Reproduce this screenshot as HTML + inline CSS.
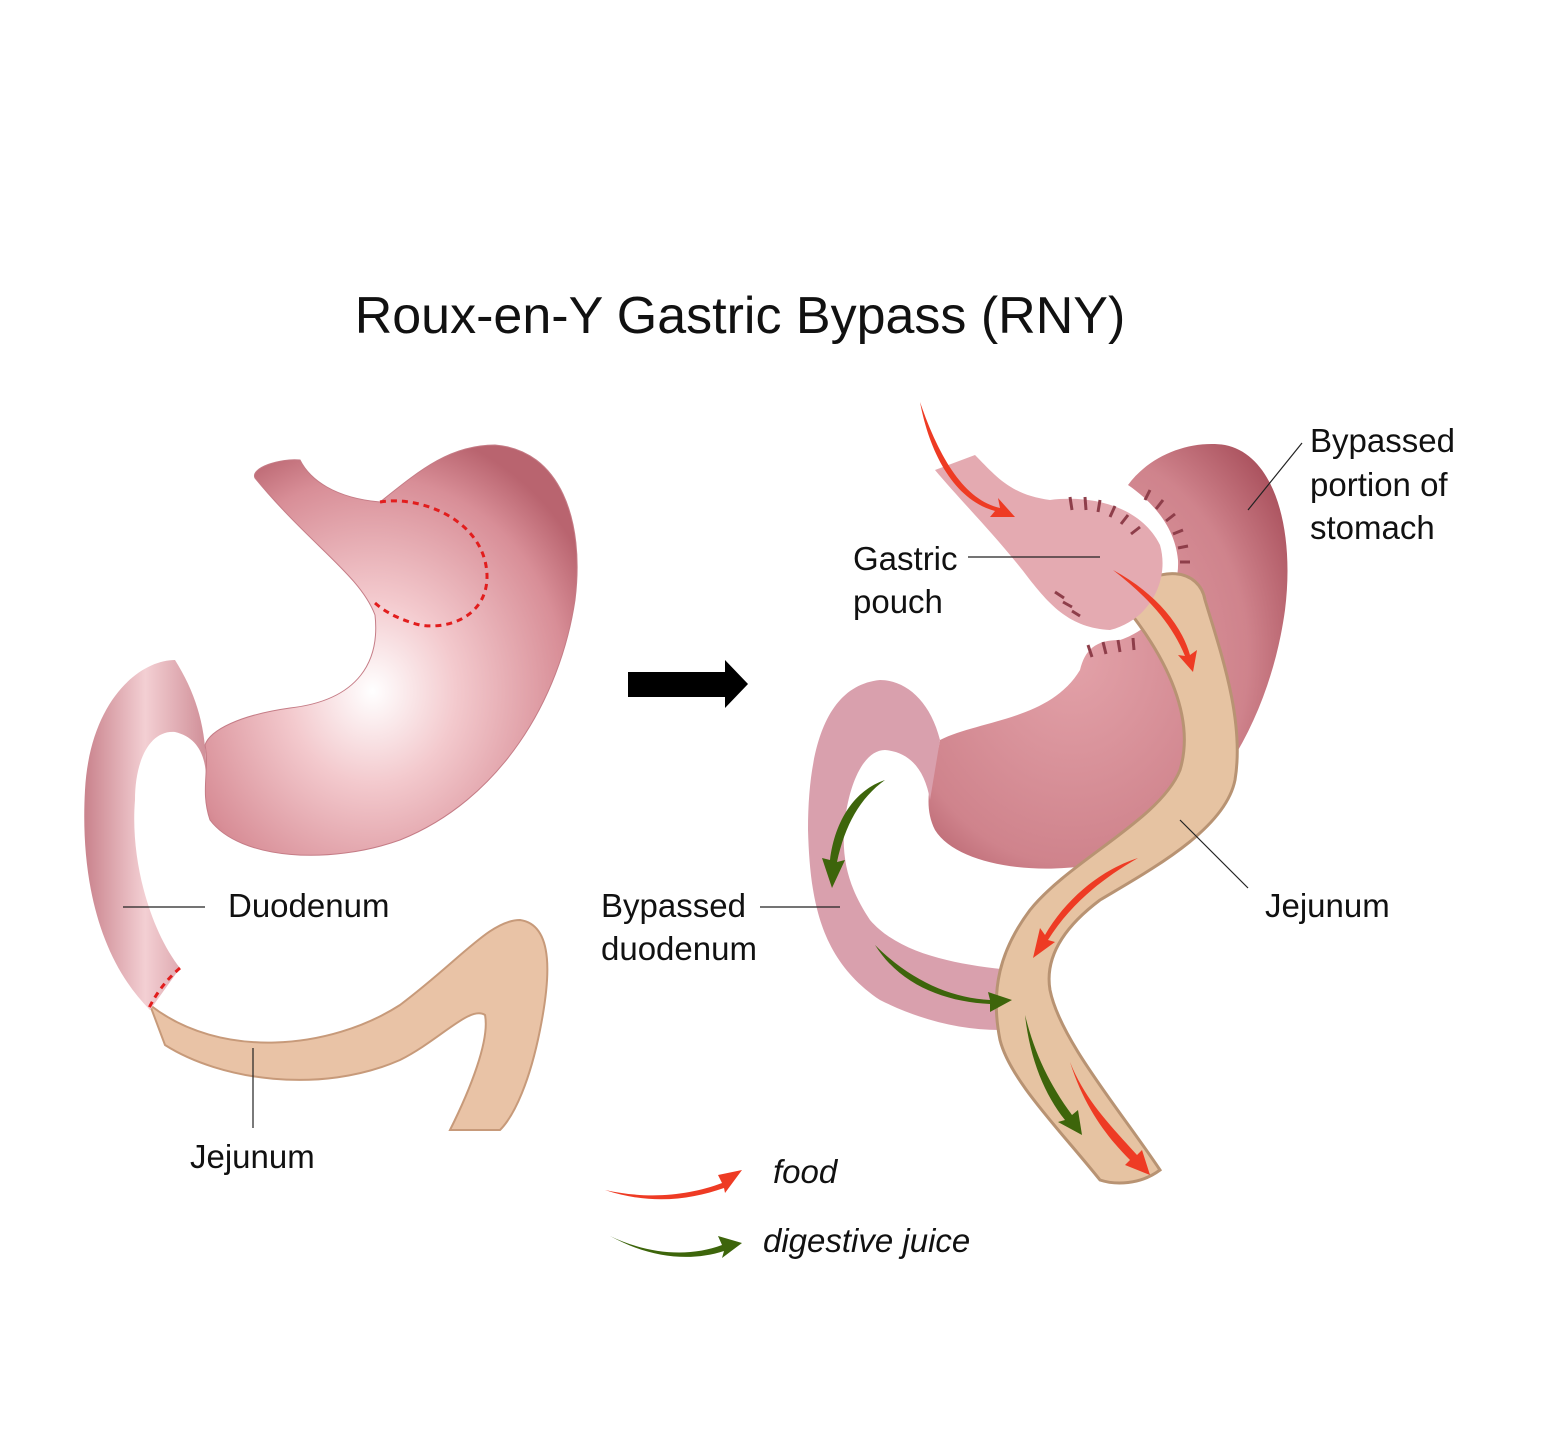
<!DOCTYPE html>
<html><head><meta charset="utf-8"><style>
html,body{margin:0;padding:0;background:#fff;}
svg{display:block;}
text{font-family:"Liberation Sans","DejaVu Sans",sans-serif;fill:#111;}
</style></head><body>
<svg width="1544" height="1442" viewBox="0 0 1544 1442" xmlns="http://www.w3.org/2000/svg">
<defs>
<radialGradient id="st" cx="0.45" cy="0.6" r="0.65">
<stop offset="0" stop-color="#fff"/><stop offset="0.35" stop-color="#f3c9cd"/><stop offset="0.8" stop-color="#d88e97"/><stop offset="1" stop-color="#b9646f"/></radialGradient>
<radialGradient id="st2" cx="0.4" cy="0.5" r="0.7">
<stop offset="0" stop-color="#e3a2a9"/><stop offset="0.7" stop-color="#cf838c"/><stop offset="1" stop-color="#a9505c"/></radialGradient>
<linearGradient id="tube" x1="0" x2="1"><stop offset="0" stop-color="#c9828c"/><stop offset="0.5" stop-color="#f3cfd3"/><stop offset="1" stop-color="#d08f98"/></linearGradient>
</defs>

<text x="740" y="333" font-size="52" text-anchor="middle">Roux-en-Y Gastric Bypass (RNY)</text>

<!-- LEFT -->
<path d="M150,1005 C220,1060 330,1050 400,1005 C460,960 490,920 520,920 C555,925 550,980 540,1030 C530,1080 515,1115 500,1130 L450,1130 C470,1090 490,1040 485,1015 C470,1005 440,1040 400,1060 C320,1095 220,1080 165,1045 Z" fill="#e9c3a6" stroke="#c79a7a" stroke-width="2"/>
<path d="M205,800 C210,740 200,700 175,660 C140,660 90,700 85,790 C80,880 100,960 150,1010 L180,968 C150,930 130,860 135,800 C135,760 150,730 175,732 C200,738 210,760 205,800 Z" fill="url(#tube)"/>
<path d="M180,968 Q160,985 148,1010" fill="none" stroke="#e21d1d" stroke-width="3" stroke-dasharray="6,5"/>
<path d="M255,478 C250,468 280,458 300,460 C310,480 335,498 380,502 C420,470 450,445 495,445 C560,450 585,520 575,600 C560,700 500,800 400,840 C330,865 240,860 210,820 C200,790 210,770 205,745 C210,730 240,715 290,708 C360,700 380,660 375,615 C360,575 310,545 255,478 Z" fill="url(#st)" stroke="#c57c86" stroke-width="1"/>
<path d="M380,502 C420,495 485,520 487,575 C488,615 450,630 420,625 C400,620 385,612 375,603" fill="none" stroke="#e21d1d" stroke-width="3" stroke-dasharray="6,5"/>

<line x1="123" y1="907" x2="205" y2="907" stroke="#222" stroke-width="1.2"/>
<text x="228" y="917" font-size="33">Duodenum</text>
<line x1="253" y1="1048" x2="253" y2="1128" stroke="#222" stroke-width="1.2"/>
<text x="190" y="1168" font-size="33">Jejunum</text>

<path d="M628,672 H725 V660 L748,684 L725,708 V697 H628 Z" fill="#000"/>

<!-- RIGHT -->
<path d="M1128,485 C1150,455 1190,440 1225,445 C1275,455 1295,530 1285,610 C1270,720 1210,820 1130,855 C1060,880 960,870 935,830 C920,800 935,770 940,740 C980,720 1050,720 1080,670 C1085,650 1095,640 1120,640 C1150,630 1180,600 1178,560 C1175,525 1150,500 1128,485 Z" fill="url(#st2)"/>
<path d="M940,740 C930,700 905,680 880,680 C830,685 808,740 808,830 C810,900 820,960 880,1000 C920,1020 960,1030 1000,1030 L1010,970 C960,965 900,955 870,920 C850,890 840,860 845,820 C850,780 865,750 885,750 C910,752 925,770 930,800 Z" fill="#d9a0ad"/>
<path d="M1120,600 C1160,560 1200,570 1205,600 C1220,650 1245,720 1235,780 C1225,830 1150,870 1100,900 C1060,930 1045,960 1050,990 C1060,1040 1120,1110 1160,1170 C1140,1185 1115,1185 1100,1180 C1060,1130 1010,1080 1000,1040 C990,990 1000,950 1030,910 C1070,860 1160,820 1180,770 C1195,720 1170,660 1120,600 Z" fill="#e6c3a2" stroke="#b89373" stroke-width="3"/>
<path d="M935,470 L975,455 C995,475 1010,495 1050,500 C1090,495 1140,505 1160,545 C1170,580 1150,620 1110,630 C1070,628 1050,605 1030,580 C1000,540 960,500 935,470 Z" fill="#e4aab1"/>
<g stroke="#8e3e4a" stroke-width="3">
<line x1="1070" y1="497" x2="1072" y2="510"/><line x1="1085" y1="497" x2="1086" y2="510"/><line x1="1100" y1="500" x2="1098" y2="512"/><line x1="1115" y1="506" x2="1110" y2="517"/><line x1="1128" y1="515" x2="1121" y2="524"/><line x1="1140" y1="527" x2="1131" y2="534"/>
<line x1="1150" y1="490" x2="1145" y2="500"/><line x1="1163" y1="500" x2="1156" y2="509"/><line x1="1175" y1="514" x2="1166" y2="521"/><line x1="1183" y1="530" x2="1173" y2="534"/><line x1="1188" y1="546" x2="1178" y2="548"/><line x1="1190" y1="562" x2="1180" y2="562"/>
<line x1="1055" y1="592" x2="1064" y2="598"/><line x1="1063" y1="602" x2="1072" y2="607"/><line x1="1072" y1="611" x2="1080" y2="616"/>
<line x1="1088" y1="645" x2="1092" y2="657"/><line x1="1103" y1="642" x2="1106" y2="654"/><line x1="1118" y1="640" x2="1120" y2="652"/><line x1="1133" y1="638" x2="1134" y2="650"/>
</g>

<g fill="#ee3b24">
<path d="M920,402 C940,460 965,500 1000,508 L998,498 L1015,517 L990,517 L995,511 C955,500 930,455 920,402 Z"/>
<path d="M1113,570 C1150,590 1180,620 1190,655 L1197,650 L1193,672 L1178,655 L1185,656 C1170,620 1145,595 1113,570 Z"/>
<path d="M1138,858 C1100,870 1065,900 1045,935 L1040,928 L1033,958 L1055,942 L1048,940 C1070,905 1100,880 1138,858 Z"/>
<path d="M1070,1062 C1085,1110 1110,1140 1130,1160 L1125,1165 L1150,1175 L1142,1150 L1137,1155 C1110,1125 1085,1100 1070,1062 Z"/>
</g>
<g fill="#3d650b">
<path d="M885,780 C855,790 835,820 830,860 L822,858 L832,888 L845,860 L837,862 C845,825 860,798 885,780 Z"/>
<path d="M875,945 C910,980 950,998 990,1000 L988,992 L1012,1000 L990,1012 L990,1004 C945,1002 900,985 875,945 Z"/>
<path d="M1025,1015 C1030,1060 1045,1095 1065,1120 L1058,1122 L1082,1135 L1078,1110 L1072,1115 C1050,1085 1035,1055 1025,1015 Z"/>
</g>

<text x="853" y="570" font-size="33">Gastric</text>
<text x="853" y="613" font-size="33">pouch</text>
<line x1="968" y1="557" x2="1100" y2="557" stroke="#222" stroke-width="1.2"/>
<text x="1310" y="452" font-size="33">Bypassed</text>
<text x="1310" y="496" font-size="33">portion of</text>
<text x="1310" y="539" font-size="33">stomach</text>
<line x1="1302" y1="443" x2="1248" y2="510" stroke="#222" stroke-width="1.2"/>
<text x="1265" y="917" font-size="33">Jejunum</text>
<line x1="1180" y1="820" x2="1248" y2="888" stroke="#222" stroke-width="1.2"/>
<text x="601" y="917" font-size="33">Bypassed</text>
<text x="601" y="960" font-size="33">duodenum</text>
<line x1="760" y1="907" x2="840" y2="907" stroke="#222" stroke-width="1.2"/>

<path d="M605,1190 C650,1200 690,1195 722,1183 L718,1175 L742,1170 L725,1193 L724,1188 C690,1200 650,1205 605,1190 Z" fill="#ee3b24"/>
<text x="773" y="1183" font-size="33" font-style="italic">food</text>
<path d="M610,1236 C650,1255 690,1257 722,1245 L718,1236 L742,1243 L722,1258 L724,1251 C690,1262 650,1258 610,1236 Z" fill="#3d650b"/>
<text x="763" y="1252" font-size="33" font-style="italic">digestive juice</text>
</svg>
</body></html>
